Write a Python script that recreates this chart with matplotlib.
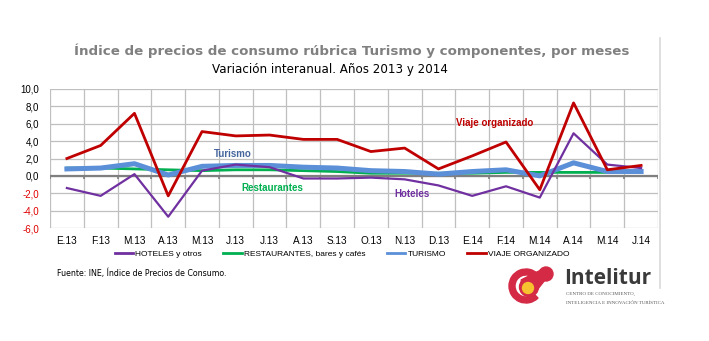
import matplotlib
matplotlib.use('Agg')
from matplotlib import pyplot as plt
from matplotlib.patches import Circle, Wedge, Polygon

# datos
meses = ['E.13', 'F.13', 'M.13', 'A.13', 'M.13', 'J.13', 'J.13', 'A.13', 'S.13',
         'O.13', 'N.13', 'D.13', 'E.14', 'F.14', 'M.14', 'A.14', 'M.14', 'J.14']
hoteles = [-1.4, -2.3, 0.2, -4.7, 0.6, 1.3, 1.0, -0.3, -0.3,
           -0.2, -0.4, -1.1, -2.3, -1.2, -2.5, 4.9, 1.3, 0.9]
restaurantes = [0.9, 0.9, 0.8, 0.7, 0.6, 0.7, 0.7, 0.6, 0.5,
                0.3, 0.3, 0.3, 0.3, 0.4, 0.4, 0.4, 0.4, 0.4]
turismo = [0.8, 0.9, 1.4, 0.1, 1.1, 1.2, 1.2, 1.0, 0.9,
           0.6, 0.5, 0.2, 0.5, 0.7, 0.0, 1.5, 0.5, 0.5]
viaje = [2.0, 3.5, 7.2, -2.3, 5.1, 4.6, 4.7, 4.2, 4.2,
         2.8, 3.2, 0.8, 2.3, 3.9, -1.6, 8.4, 0.7, 1.2]
y_ticks = [-6, -4, -2, 0, 2, 4, 6, 8, 10]

W, H = 709, 341
ARIAL = 'Liberation Sans'

fig = plt.figure(figsize=(W / 100, H / 100), dpi=100)

def fx(px):
    return px / W

def fy(py):
    return 1 - py / H

ax = fig.add_axes([fx(50), fy(228), fx(658) - fx(50), fy(89) - fy(228)])
x = list(range(len(meses)))
limites = [i - 0.5 for i in range(len(meses) + 1)]

ax.plot(x, restaurantes, color='#00B050', lw=2.0, label='RESTAURANTES, bares y cafés', zorder=3)
ax.plot(x, turismo, color='#5B8FD8', lw=3.6, label='TURISMO', zorder=4)
ax.plot(x, hoteles, color='#7030A0', lw=1.6, label='HOTELES y otros', zorder=5)
ax.plot(x, viaje, color='#C00000', lw=2.0, label='VIAJE ORGANIZADO', zorder=6)

ax.set_xlim(-0.5, len(meses) - 0.5)
ax.set_ylim(-6, 10)
ax.set_yticks(y_ticks)
ax.set_yticklabels(['{:.1f}'.format(v).replace('.', ',') for v in y_ticks],
                   fontsize=7, family=ARIAL)
for lab, v in zip(ax.get_yticklabels(), y_ticks):
    lab.set_color('#E00000' if v < 0 else 'black')
ax.set_xticks(x)
ax.set_xticklabels(meses, fontsize=7.2, family=ARIAL)
ax.set_xticks(limites, minor=True)
ax.tick_params(axis='both', which='both', length=0)
ax.tick_params(axis='y', pad=8)
ax.tick_params(axis='x', pad=6)
for s in ax.spines.values():
    s.set_visible(False)
ax.grid(True, axis='y', which='major', color='#BFBFBF', lw=0.9)
ax.grid(True, axis='x', which='minor', color='#BFBFBF', lw=0.9)
ax.set_axisbelow(True)

# eje cero con marcas
ax.axhline(0, color='#7F7F7F', lw=1.6, zorder=2)
ax.vlines(limites, -0.4, 0, color='#7F7F7F', lw=1.2, zorder=2)

# rotulos de series
fig.text(fx(233), fy(154), 'Turismo', color='#44649C', fontsize=7, fontweight='bold',
         family=ARIAL, ha='center', va='center')
fig.text(fx(272), fy(188), 'Restaurantes', color='#00B050', fontsize=7, fontweight='bold',
         family=ARIAL, ha='center', va='center')
fig.text(fx(412), fy(194), 'Hoteles', color='#7030A0', fontsize=7, fontweight='bold',
         family=ARIAL, ha='center', va='center')
fig.text(fx(495), fy(123), 'Viaje organizado', color='#C00000', fontsize=7, fontweight='bold',
         family=ARIAL, ha='center', va='center')

# titulos
fig.text(fx(352), fy(51), 'Índice de precios de consumo rúbrica Turismo y componentes, por meses',
         color='#808080', fontsize=9.6, fontweight='bold', ha='center', va='center')
fig.text(fx(330), fy(70), 'Variación interanual. Años 2013 y 2014',
         color='black', fontsize=8.6, ha='center', va='center')

# leyenda
h, l = ax.get_legend_handles_labels()
orden = [2, 0, 1, 3]
fig.legend([h[i] for i in orden], [l[i] for i in orden], loc='center',
           bbox_to_anchor=(fx(342), fy(254)), ncol=4, frameon=False,
           prop={'family': ARIAL, 'size': 6}, handlelength=2.2, handletextpad=0.25,
           columnspacing=2.6, borderpad=0)
for ln in fig.legends[0].get_lines():
    ln.set_linewidth(2.0)

fig.text(fx(57), fy(273), 'Fuente: INE, Índice de Precios de Consumo.',
         fontsize=5.7, ha='left', va='center')

# borde derecho
fig.add_artist(plt.Line2D([fx(660), fx(660)], [fy(38), fy(288)], color='#D9D9D9', lw=1.2))

# logo
lax = fig.add_axes([fx(505), fy(308), fx(560) - fx(505), fy(262) - fy(308)])
lax.set_xlim(0, 55)
lax.set_ylim(0, 46)
lax.axis('off')
rojo = '#D42A45'
lax.add_patch(Wedge((21, 22), 17, 45, 315, width=6, color=rojo))
lax.add_patch(Polygon([[16, 28], [36, 38], [40, 28], [28, 13]], closed=True, color=rojo))
lax.add_patch(Circle((24, 21), 9.5, color=rojo))
lax.add_patch(Circle((41, 34), 7, color=rojo))
lax.add_patch(Circle((23, 20), 5.5, color='#F7C12F'))

fig.text(fx(564), fy(279), 'Intelitur', color='#3A3A3A', fontsize=15, fontweight='bold',
         family='Open Sans', ha='left', va='center')
fig.text(fx(566), fy(294), 'CENTRO DE CONOCIMIENTO,', color='#555555', fontsize=3.6,
         family='Liberation Serif', ha='left', va='center')
fig.text(fx(566), fy(303), 'INTELIGENCIA E INNOVACIÓN TURÍSTICA', color='#555555', fontsize=3.6,
         family='Liberation Serif', ha='left', va='center')

fig.savefig('out.png', dpi=100)
